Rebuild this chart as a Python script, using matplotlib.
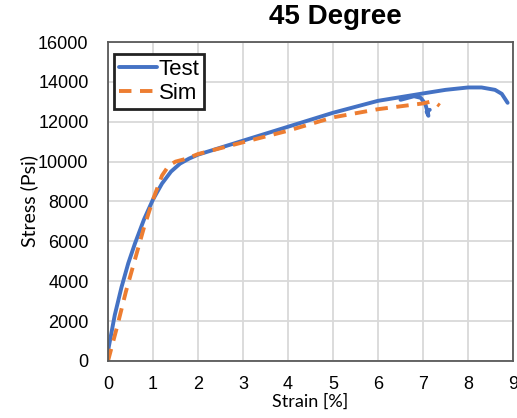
import matplotlib.pyplot as plt

# strain [%] and stress (psi)
test_strain = [0, 0.05, 0.15, 0.3, 0.45, 0.6, 0.8, 1.0, 1.2, 1.4, 1.6, 1.8, 2.0, 2.5,
               3, 4, 5, 6, 7, 7.5, 8, 8.3, 8.6, 8.75, 8.88]
test_stress = [500, 1100, 2300, 3700, 4900, 5900, 7100, 8100, 8900, 9500, 9900, 10150,
               10350, 10700, 11050, 11750, 12450, 13050, 13420, 13600, 13720, 13720,
               13600, 13400, 12950]

# second test specimen, splits off near 6.5 %
test2_strain = [6.5, 6.8, 6.95, 7.05, 7.1, 7.12, 7.08, 7.15]
test2_stress = [13100, 13280, 13200, 12900, 12500, 12300, 12500, 12600]

sim_strain = [0, 0.2, 0.4, 0.6, 0.8, 1.0, 1.2, 1.35, 1.5, 1.75, 2.0, 3, 4, 5, 6, 7,
              7.15, 7.3, 7.37]
sim_stress = [0, 1700, 3500, 5100, 6700, 8100, 9300, 9800, 10000, 10150, 10380, 10970,
              11550, 12220, 12630, 12920, 13000, 12920, 12800]

xticks = list(range(0, 10))
yticks = list(range(0, 16001, 2000))

blue = "#4472C4"
orange = "#ED7D31"

fig = plt.figure(figsize=(5.17, 4.18), dpi=100)
ax = fig.add_axes([0.2089, 0.1364, 0.7834, 0.7631])

ax.plot(test_strain, test_stress, color=blue, lw=2.8, label="Test", solid_capstyle="round")
ax.plot(test2_strain, test2_stress, color=blue, lw=2.8, solid_capstyle="round")
ax.plot(sim_strain, sim_stress, color=orange, lw=2.8, ls=(0, (3.2, 2.2)), label="Sim")

ax.set_xlim(0, 9)
ax.set_ylim(0, 16000)
ax.set_xticks(xticks)
ax.set_yticks(yticks)
ax.grid(True, color="#D9D9D9", lw=1.3)
ax.set_axisbelow(True)
for s in ax.spines.values():
    s.set_color("#595959")
    s.set_linewidth(1.3)
ax.tick_params(length=0, labelsize=13, pad=14)
ax.tick_params(axis="x", pad=11)
for lab in ax.get_xticklabels() + ax.get_yticklabels():
    lab.set_family("Liberation Sans")

ax.set_xlabel("Strain [%]", family="Lato", fontsize=13, labelpad=0.5)
ax.set_ylabel("Stress (Psi)", family="Lato", fontsize=14, labelpad=0)
fig.text(0.648, 0.959, "45 Degree", ha="center", va="center",
         family="Liberation Sans", weight="bold", fontsize=20)

leg = ax.legend(loc="upper left", bbox_to_anchor=(0.005, 0.975),
                prop={"family": "Liberation Sans", "size": 16},
                handlelength=1.7, handletextpad=0.1, borderpad=0.2,
                labelspacing=0.15, borderaxespad=0.2, fancybox=False, framealpha=1)
leg.get_frame().set_edgecolor("#222222")
leg.get_frame().set_linewidth(2)

fig.savefig("out.png", dpi=100)
